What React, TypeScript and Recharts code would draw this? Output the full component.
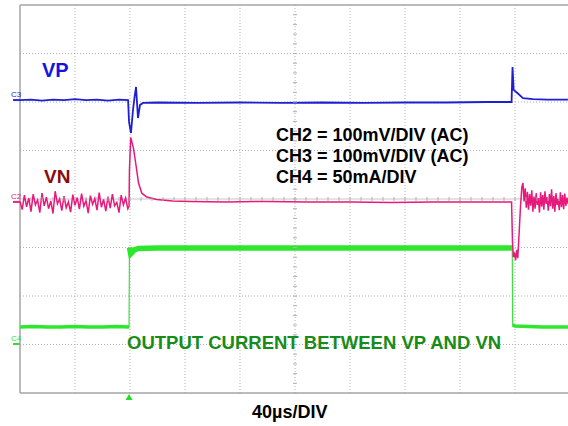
import React from "react";
import {
  ComposedChart,
  Line,
  ReferenceDot,
  ReferenceLine,
  Scatter,
  XAxis,
  YAxis
} from "recharts";

// x: time in µs (40µs/DIV), y: screen divisions counted from the bottom edge
const timeTicks = [0, 40, 80, 120, 160, 200, 240, 280, 320, 360, 400];
const divTicks = [0, 1, 2, 3, 4, 5, 6, 7, 8];

const groundLevels = [6.04, 3.94, 1.01];
const groundLabels = ["C3", "C2", "C4"];
const groundColors = ["#2a2ad8", "#e0287e", "#34dc34"];

const triggerTime = 79.3;

// CH3 - VP
const ch3Trace: [number, number][] = [
  [0, 6.04], [8, 6.05], [16, 6.03], [24, 6.05], [32, 6.04], [40, 6.06],
  [48, 6.04], [56, 6.05], [64, 6.03], [72, 6.05], [78.6, 6.04],
  [79.3, 5.59], [80.7, 5.36], [82.2, 5.84], [83.3, 6.1], [84.4, 6.31],
  [85.8, 5.67], [87.3, 5.94], [89.5, 5.98], [100, 5.99], [130, 5.98],
  [160, 5.99], [190, 5.98], [220, 5.99], [250, 5.98], [280, 5.99],
  [310, 5.99], [340, 6.0], [357.5, 6.0], [358.2, 6.72], [359.0, 6.25],
  [361.5, 6.19], [365.8, 6.08], [373.1, 6.06], [383.3, 6.05], [398.5, 6.05]
];

// CH2 - VN
const ch2Trace: [number, number][] = [
  [0, 3.95], [1.6, 3.78], [3.2, 4.08], [4.8, 3.84], [6.4, 4.02], [8.0, 3.74],
  [9.6, 4.1], [11.2, 3.88], [12.8, 3.98], [14.4, 3.72], [16.0, 4.12], [17.6, 3.86],
  [19.2, 4.04], [20.8, 3.8], [22.4, 3.96], [24.0, 3.7], [25.6, 4.16], [27.2, 3.9],
  [28.8, 4.0], [30.4, 3.76], [32.0, 4.06], [33.6, 3.82], [35.2, 3.94], [36.8, 3.73],
  [38.4, 4.09], [40.0, 3.87], [41.6, 4.03], [43.2, 3.79], [44.8, 4.11], [46.4, 3.85],
  [48.0, 3.97], [49.6, 3.71], [51.2, 4.07], [52.8, 3.89], [54.4, 4.01], [56.0, 3.77],
  [57.6, 4.13], [59.2, 3.83], [60.8, 3.99], [62.4, 3.75], [64.0, 4.05], [65.6, 3.81],
  [67.2, 4.1], [68.8, 3.86], [70.4, 3.93], [72.0, 3.72], [73.6, 4.08], [75.2, 3.88],
  [76.8, 4.02], [78.4, 3.8],
  [79.3, 3.85], [79.6, 4.6], [80.5, 5.27], [81.0, 5.22], [82.5, 5.05], [84.5, 4.67],
  [86.2, 4.33], [88.6, 4.12], [92.2, 4.04], [99.4, 3.99], [111, 3.96], [124, 3.95],
  [150, 3.94], [180, 3.95], [210, 3.94], [240, 3.94], [270, 3.93], [300, 3.94],
  [330, 3.94], [357.5, 3.94],
  [358.2, 3.1], [358.8, 2.8], [359.6, 2.9], [360.4, 2.74], [361.4, 2.95], [362.0, 2.78],
  [363.0, 3.3], [364.0, 3.85], [365.0, 4.25], [365.8, 4.33], [366.6, 3.95], [367.4, 4.22],
  [368.2, 3.82], [369.0, 4.15], [369.8, 3.78], [370.6, 4.1], [371.4, 3.86], [372.2, 4.18],
  [373.0, 3.74], [373.8, 4.05], [374.6, 3.8], [375.4, 4.12], [376.2, 3.88], [377.0, 4.02],
  [377.8, 3.72], [378.6, 4.14], [379.4, 3.84], [380.2, 4.08], [381.0, 3.78], [381.8, 4.16],
  [382.6, 3.9], [383.4, 4.04], [384.2, 3.76], [385.0, 4.1], [385.8, 3.85], [386.6, 4.2],
  [387.4, 3.8], [388.2, 4.06], [389.0, 3.74], [389.8, 4.12], [390.6, 3.88], [391.4, 4.0],
  [392.2, 3.77], [393.0, 4.14], [393.8, 3.83], [394.6, 4.08], [395.4, 3.79], [396.2, 4.11],
  [397.0, 3.86], [397.8, 4.03], [398.6, 3.9]
];

// CH4 - output current
const ch4Trace: [number, number][] = [
  [0, 1.36], [10, 1.37], [20, 1.36], [30, 1.36], [40, 1.37], [50, 1.36],
  [60, 1.36], [70, 1.37], [79.3, 1.36],
  [79.6, 3.0], [80.5, 2.87], [81.5, 2.9], [83, 2.95], [86, 2.98], [100, 2.99],
  [150, 2.99], [200, 2.99], [250, 2.99], [300, 2.99], [358, 2.99],
  [358.3, 1.4], [360, 1.38], [380, 1.36], [398.5, 1.36]
];

const pts = (arr: [number, number][]) => arr.map(([t, v]) => ({ t, v }));

// graticule minor ticks along the centre lines (5 per division)
const hMinor = Array.from({ length: 51 }, (_, i) => ({ t: i * 8, v: 4 }));
const vMinor = Array.from({ length: 41 }, (_, i) => ({ t: 200, v: i * 0.2 }));

const txt: React.CSSProperties = {
  position: "absolute",
  whiteSpace: "nowrap",
  fontWeight: "bold",
  lineHeight: 1
};

const border = "#a4a4a4";

export default function App() {
  const ch4 = pts(ch4Trace);
  return (
    <div
      style={{
        position: "absolute",
        left: 0,
        top: 0,
        width: 568,
        height: 426,
        overflow: "hidden",
        background: "#fff",
        fontFamily: "'Liberation Sans', Arial, sans-serif"
      }}
    >
      <ComposedChart width={570} height={426} margin={{ top: 5, right: 0, bottom: 0, left: 20 }}>
        <XAxis
          dataKey="t"
          type="number"
          domain={[0, 400]}
          ticks={timeTicks}
          tick={false}
          tickLine={false}
          height={33}
          axisLine={{ stroke: border, strokeWidth: 1.5 }}
        />
        <YAxis type="number" domain={[0, 8]} ticks={divTicks} hide />
        {timeTicks.slice(1).map((t) => (
          <ReferenceLine key={"vx" + t} x={t} stroke="#b2b2b2" strokeDasharray="1 2" />
        ))}
        {divTicks.slice(1, 8).filter((d) => d !== 4).map((d) => (
          <ReferenceLine key={"hy" + d} y={d} stroke="#b2b2b2" strokeDasharray="1 2" />
        ))}
        <ReferenceLine y={8} stroke={border} strokeWidth={1.5} />
        <ReferenceLine x={0} stroke={border} strokeWidth={1.5} />
        <ReferenceLine y={4} stroke="#c6c6c6" />
        <Scatter
          data={hMinor}
          dataKey="v"
          isAnimationActive={false}
          shape={(p: any) => (
            <line x1={p.cx} x2={p.cx} y1={p.cy - 2} y2={p.cy + 2} stroke="#b0b0b0" />
          )}
        />
        <Scatter
          data={vMinor}
          dataKey="v"
          isAnimationActive={false}
          shape={(p: any) => (
            <line x1={p.cx - 2} x2={p.cx + 2} y1={p.cy} y2={p.cy} stroke="#b0b0b0" />
          )}
        />
        {groundLevels.map((lvl, i) => (
          <ReferenceDot
            key={groundLabels[i]}
            x={0}
            y={lvl}
            ifOverflow="visible"
            shape={(p: any) => (
              <g>
                <line x1={p.cx - 7} x2={p.cx} y1={p.cy} y2={p.cy} stroke={groundColors[i]} strokeWidth={2} />
                <text
                  x={p.cx - 9}
                  y={p.cy - 3}
                  fontSize={8}
                  fill={groundColors[i]}
                  fontFamily="'Liberation Sans', Arial, sans-serif"
                >
                  {groundLabels[i]}
                </text>
              </g>
            )}
          />
        ))}
        <Line data={ch4} dataKey="v" stroke="#3ee03e" strokeWidth={1.2} dot={false} isAnimationActive={false} />
        <Line
          data={ch4.filter((p) => p.t <= 79.3)}
          dataKey="v"
          stroke="#2ee62e"
          strokeWidth={3.5}
          dot={false}
          isAnimationActive={false}
        />
        <Line
          data={ch4.filter((p) => p.t >= 79.6 && p.t <= 358)}
          dataKey="v"
          stroke="#2ee62e"
          strokeWidth={5.5}
          dot={false}
          isAnimationActive={false}
        />
        <Line
          data={ch4.filter((p) => p.t >= 358.3)}
          dataKey="v"
          stroke="#2ee62e"
          strokeWidth={3.5}
          dot={false}
          isAnimationActive={false}
        />
        <Line data={pts(ch3Trace)} dataKey="v" stroke="#1f1fd2" strokeWidth={1.8} dot={false} isAnimationActive={false} />
        <Line data={pts(ch2Trace)} dataKey="v" stroke="#e8197c" strokeWidth={1.5} dot={false} isAnimationActive={false} />
        <ReferenceDot
          x={triggerTime}
          y={0}
          ifOverflow="visible"
          shape={(p: any) => (
            <polygon
              points={`${p.cx},${p.cy + 1} ${p.cx - 3.5},${p.cy + 7} ${p.cx + 3.5},${p.cy + 7}`}
              fill="#22dd22"
            />
          )}
        />
      </ComposedChart>

      <div style={{ ...txt, left: 42, top: 60, fontSize: 20, color: "#1414e0" }}>VP</div>
      <div style={{ ...txt, left: 44, top: 167, fontSize: 19, color: "#8a0c0c" }}>VN</div>
      <div style={{ ...txt, left: 276, top: 125, fontSize: 18, lineHeight: "21px", color: "#000" }}>
        <div>CH2 = 100mV/DIV (AC)</div>
        <div>CH3 = 100mV/DIV (AC)</div>
        <div>CH4 = 50mA/DIV</div>
      </div>
      <div style={{ ...txt, left: 127, top: 334, fontSize: 18.5, color: "#188c18" }}>
        OUTPUT CURRENT BETWEEN VP AND VN
      </div>
      <div style={{ ...txt, left: 252, top: 403, fontSize: 18, color: "#000" }}>40µs/DIV</div>
    </div>
  );
}
